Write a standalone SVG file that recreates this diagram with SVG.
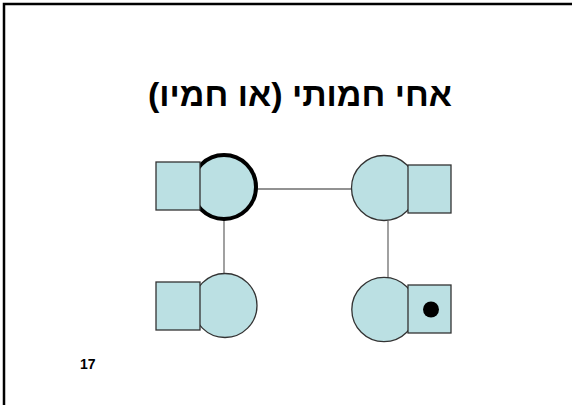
<svg xmlns="http://www.w3.org/2000/svg" width="572" height="405" viewBox="0 0 572 405">
  <style>
    .shape { fill: #bbe0e3; stroke: #333333; stroke-width: 1.3; }
    .bold { stroke: #000000; stroke-width: 4; }
    .link { stroke: #6e6e6e; stroke-width: 1.3; fill: none; }
    .title { font-family: "Liberation Sans", Arial, sans-serif; font-weight: bold; font-size: 33px; fill: #000; }
    .num { font-family: "Liberation Sans", Arial, sans-serif; font-weight: bold; font-size: 14px; fill: #000; }
  </style>
  <rect width="572" height="405" fill="#ffffff"/>
  <!-- slide frame: top and left edges -->
  <path d="M4 405 V4 H572" fill="none" stroke="#000" stroke-width="2.5"/>

  <text class="title" x="300" y="106" text-anchor="middle" direction="rtl" textLength="304" lengthAdjust="spacingAndGlyphs">אחי חמותי (או חמיו)</text>

  <g id="connectors">
    <line class="link" x1="257" y1="189" x2="352" y2="189"/>
    <line class="link" x1="224" y1="220" x2="224" y2="274"/>
    <line class="link" x1="388" y1="221" x2="388" y2="278"/>
  </g>

  <g id="node-top-left">
    <circle class="shape bold" cx="224" cy="187" r="32"/>
    <rect class="shape" x="156" y="162" width="44" height="48"/>
  </g>

  <g id="node-top-right">
    <circle class="shape" cx="384" cy="188" r="32.5"/>
    <rect class="shape" x="408" y="165" width="43" height="48"/>
  </g>

  <g id="node-bottom-left">
    <circle class="shape" cx="225" cy="305.5" r="32"/>
    <rect class="shape" x="156" y="282" width="44" height="48"/>
  </g>

  <g id="node-bottom-right">
    <circle class="shape" cx="384" cy="309.5" r="32.2"/>
    <rect class="shape" x="408" y="285" width="43" height="48"/>
    <circle cx="431" cy="309.5" r="8" fill="#000"/>
  </g>

  <text class="num" x="80" y="369">17</text>
</svg>
